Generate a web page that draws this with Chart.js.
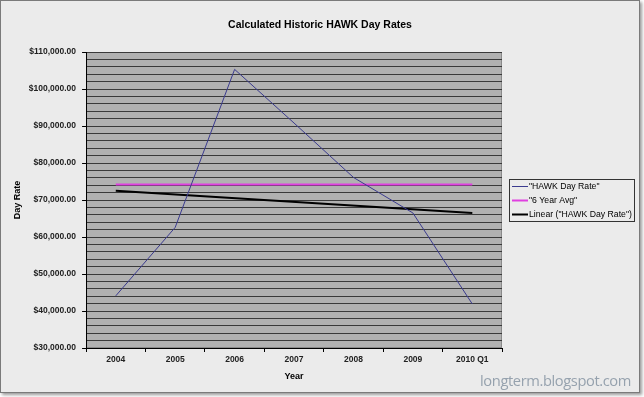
<!DOCTYPE html>
<html>
<head>
<meta charset="utf-8">
<script src="https://cdn.jsdelivr.net/npm/chart.js@4/dist/chart.umd.min.js"></script>
<style>
  body { margin: 0; background: #fff; }
  #frame {
    position: absolute; left: 0; top: 0;
    width: 638px; height: 391px;
    border: 1px solid #7a7a7a;
    box-shadow: 2px 2px 3px #9a9a9a;
    background: #ebebeb;
  }
  #mark {
    position: absolute; right: 8px; top: 369px;
    font-family: "Open Sans", sans-serif; font-size: 14.7px;
    color: #96a2ae; letter-spacing: -0.4px;
  }
</style>
</head>
<body>
<div id="frame">
  <canvas id="hawkChart" width="638" height="391"></canvas>
  <div id="mark">longterm.blogspot.com</div>
</div>
<script>
const chartTitle = 'Calculated Historic HAWK Day Rates';
const years = ['2004', '2005', '2006', '2007', '2008', '2009', '2010 Q1'];
const dayRate = [44100, 62600, 105300, 90800, 76100, 66500, 41900];
const sixYearAvg = [74200, 74200, 74200, 74200, 74200, 74200, 74200];
const trend = [72500, null, null, null, null, null, 66500];

const yMin = 30000;
const yMax = 110000;

function money(v) {
    return '$' + v.toLocaleString('en-US', { minimumFractionDigits: 2, maximumFractionDigits: 2 });
}

// grey plot area, title centred on the whole picture, boxed legend on the right
const excelLook = {
    id: 'excelLook',
    beforeDraw(chart) {
        const a = chart.chartArea;
        const c = chart.ctx;
        c.save();
        c.fillStyle = '#b1b1b1';
        c.fillRect(a.left, a.top, a.right - a.left, a.bottom - a.top);
        c.strokeStyle = '#8a8a8a';
        c.lineWidth = 1;
        c.strokeRect(a.left + 0.5, a.top + 0.5, a.right - a.left - 1, a.bottom - a.top - 1);
        c.restore();
    },
    afterDraw(chart) {
        const c = chart.ctx;
        c.save();
        c.fillStyle = '#000';
        c.font = 'bold 10.5px Arial, "Liberation Sans", sans-serif';
        c.textAlign = 'center';
        c.textBaseline = 'middle';
        c.fillText(chartTitle, 319, 24);

        const boxX = 508, boxY = 178, boxW = 125, boxH = 42;
        c.strokeStyle = '#333';
        c.lineWidth = 1;
        c.strokeRect(boxX + 0.5, boxY + 0.5, boxW, boxH);
        c.font = '8.7px Arial, "Liberation Sans", sans-serif';
        c.textAlign = 'left';
        chart.data.datasets.forEach((ds, i) => {
            const y = boxY + 7.5 + i * 14;
            c.strokeStyle = ds.borderColor;
            c.lineWidth = ds.borderWidth;
            c.beginPath();
            c.moveTo(boxX + 3, y);
            c.lineTo(boxX + 19, y);
            c.stroke();
            c.fillText(ds.label, boxX + 20, y);
        });
        c.restore();
    }
};

Chart.defaults.font.family = 'Arial, "Liberation Sans", sans-serif';
Chart.defaults.font.size = 10;
Chart.defaults.color = '#222';

new Chart(document.getElementById('hawkChart'), {
    type: 'line',
    data: {
        labels: years,
        datasets: [
            {
                label: '"HAWK Day Rate"',
                data: dayRate,
                borderColor: '#3b3b8f',
                borderWidth: 1,
                pointRadius: 0,
                tension: 0
            },
            {
                label: '"6 Year Avg"',
                data: sixYearAvg,
                borderColor: '#e040e0',
                borderWidth: 2,
                pointRadius: 0
            },
            {
                label: 'Linear ("HAWK Day Rate")',
                data: trend,
                borderColor: '#000',
                borderWidth: 2,
                pointRadius: 0,
                spanGaps: true
            }
        ]
    },
    options: {
        responsive: false,
        animation: false,
        layout: { padding: { left: 5, right: 137, top: 51, bottom: 10 } },
        scales: {
            x: {
                offset: true,
                grid: {
                    offset: true,
                    drawOnChartArea: false,
                    tickLength: 4,
                    tickColor: '#000'
                },
                border: { color: '#000' },
                ticks: { padding: 3, font: { weight: 'bold', size: 8.5 }, maxRotation: 0 },
                title: { display: true, text: 'Year', font: { weight: 'bold', size: 9 }, padding: { top: 3, bottom: 0 }, color: '#000' }
            },
            y: {
                min: yMin,
                max: yMax,
                grid: {
                    color: '#3a3a3a',
                    tickLength: 4,
                    tickColor: (c) => (c.tick && c.tick.value % 10000 === 0 ? '#000' : 'rgba(0,0,0,0)')
                },
                border: { color: '#000' },
                ticks: {
                    stepSize: 2000,
                    autoSkip: false,
                    maxTicksLimit: 60,
                    padding: 6,
                    font: { weight: 'bold', size: 8.5 },
                    callback: (v) => (v % 10000 === 0 ? money(v) : '')
                },
                title: { display: true, text: 'Day Rate', font: { weight: 'bold', size: 9 }, padding: { top: 6, bottom: 0 }, color: '#000' }
            }
        },
        plugins: {
            title: { display: false },
            legend: { display: false },
            tooltip: { enabled: false }
        }
    },
    plugins: [excelLook]
});
</script>
</body>
</html>
